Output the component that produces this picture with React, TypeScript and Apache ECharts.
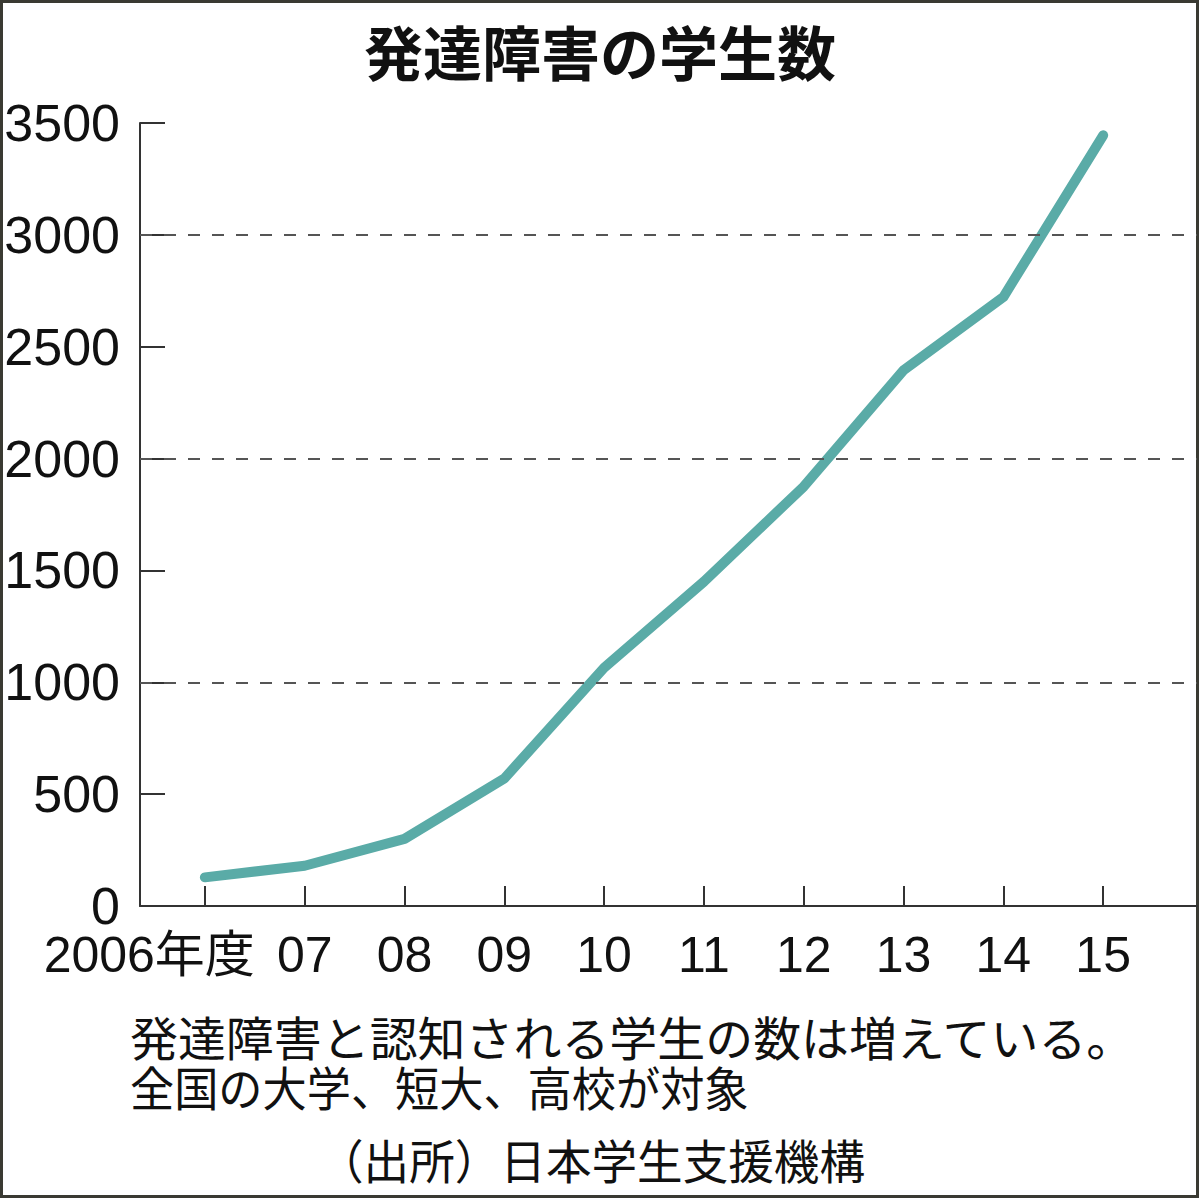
import React, { useEffect, useRef } from "react";
import * as echarts from "echarts";

// 年度と発達障害の学生数
const years = [2006, 2007, 2008, 2009, 2010, 2011, 2012, 2013, 2014, 2015];
const students = [128, 180, 300, 570, 1065, 1450, 1875, 2395, 2722, 3445];
const yearLabels = ["2006年度", "07", "08", "09", "10", "11", "12", "13", "14", "15"];
const gridValues = [1000, 2000, 3000];

const titleText = "発達障害の学生数";
const noteLines = [
  "発達障害と認知される学生の数は増えている。",
  "全国の大学、短大、高校が対象",
  "（出所）日本学生支援機構",
];

const NUM_FONT = "'Liberation Sans', Arial, 'Noto Sans CJK JP', sans-serif";
const JP_FONT = "'Noto Sans CJK JP', sans-serif";

const App: React.FC = () => {
  const chartRef = useRef<HTMLDivElement>(null);

  useEffect(() => {
    document.body.style.margin = "0";
    const chart = echarts.init(chartRef.current!, null, { renderer: "svg" });

    const noteText = (text: string, x: number, y: number, scaleX: number) => ({
      type: "text",
      x,
      y,
      scaleX,
      silent: true,
      style: {
        text,
        fontFamily: JP_FONT,
        fontSize: 47,
        fill: "#111",
        textAlign: "left",
        textVerticalAlign: "middle",
      },
    });

    const option = {
      animation: false,
      backgroundColor: "#fff",
      title: {
        text: titleText,
        left: "center",
        top: 14,
        textStyle: {
          fontFamily: JP_FONT,
          fontSize: 59,
          fontWeight: "bold",
          color: "#111",
          lineHeight: 62,
        },
      },
      grid: {
        left: 140,
        right: 3,
        top: 123,
        bottom: 294,
        containLabel: false,
        outerBoundsMode: "none",
      },
      xAxis: {
        type: "value",
        min: 2005.35,
        max: 2015.94,
        axisLine: { lineStyle: { color: "#333", width: 2 } },
        axisTick: {
          customValues: years,
          inside: true,
          length: 20,
          lineStyle: { color: "#333", width: 2 },
        },
        axisLabel: {
          customValues: years,
          showMinLabel: true,
          showMaxLabel: true,
          hideOverlap: false,
          margin: 27,
          fontFamily: NUM_FONT,
          fontSize: 50,
          lineHeight: 44,
          color: "#111",
          formatter: (v: number) => {
            const i = years.indexOf(Math.round(v));
            if (i < 0) return "";
            return i === 0 ? `{first|${yearLabels[i]}}` : yearLabels[i];
          },
          rich: {
            // 「2006年度」は目盛りの左側に寄せる
            first: {
              fontFamily: NUM_FONT,
              fontSize: 50,
              lineHeight: 44,
              color: "#111",
              width: 100,
              align: "right",
            },
          },
        },
        splitLine: { show: false },
      },
      yAxis: {
        type: "value",
        min: 0,
        max: 3500,
        interval: 500,
        axisLine: { show: true, lineStyle: { color: "#333", width: 2 } },
        axisTick: {
          show: true,
          inside: true,
          length: 25,
          lineStyle: { color: "#333", width: 2 },
        },
        axisLabel: {
          showMinLabel: true,
          showMaxLabel: true,
          hideOverlap: false,
          margin: 20,
          fontFamily: NUM_FONT,
          fontSize: 52,
          lineHeight: 44,
          color: "#111",
          formatter: (v: number) => String(v),
        },
        splitLine: { show: false },
      },
      series: [
        {
          // 破線の目盛り線（折れ線の下に描く）
          type: "line",
          z: 1,
          silent: true,
          symbol: "none",
          lineStyle: { width: 0, opacity: 0 },
          data: years.map((y, i) => [y, students[i]]),
          markLine: {
            silent: true,
            symbol: "none",
            label: { show: false },
            lineStyle: { type: [12, 12], color: "#555", width: 2 },
            data: gridValues.map((v) => ({ yAxis: v })),
          },
        },
        {
          type: "line",
          z: 3,
          symbol: "none",
          lineStyle: { color: "#5aaba7", width: 10, cap: "round", join: "round" },
          data: years.map((y, i) => [y, students[i]]),
        },
      ],
      graphic: [
        {
          type: "rect",
          shape: { x: 1.5, y: 1.5, width: 1196, height: 1195 },
          style: { fill: "none", stroke: "#3a3a32", lineWidth: 3 },
          silent: true,
        },
        noteText(noteLines[0], 130, 1036, 1.02),
        noteText(noteLines[1], 130, 1085, 0.94),
        noteText(noteLines[2], 318, 1158, 0.97),
      ],
    };

    // eslint-disable-next-line @typescript-eslint/no-explicit-any
    chart.setOption(option as any);

    return () => {
      chart.dispose();
    };
  }, []);

  return <div ref={chartRef} style={{ width: "1200px", height: "1200px" }} />;
};

export default App;
